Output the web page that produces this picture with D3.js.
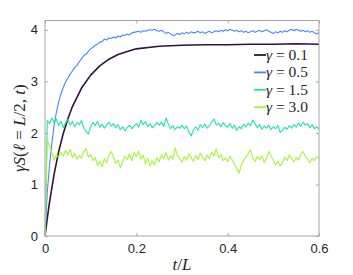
<!DOCTYPE html>
<html>
<head>
<meta charset="utf-8">
<script src="https://cdn.jsdelivr.net/npm/d3@7"></script>
<style>
  body { margin: 0; background: #fff; }
  svg text { fill: #262626; }
</style>
</head>
<body>
<div id="chart"></div>
<script>
// time grid for the noisy runs: t/L = 0, 0.005, ..., 0.6
var tGrid = d3.range(121).map(function(i) { return +(i * 0.005).toFixed(3); });

// gamma = 0.1 (smooth curve)
var tSmooth = [0, 0.005, 0.01, 0.02, 0.03, 0.04, 0.05, 0.06, 0.08, 0.1, 0.12, 0.14,
               0.16, 0.18, 0.2, 0.25, 0.3, 0.35, 0.4, 0.45, 0.5, 0.55, 0.6];
var sGamma01 = [0, 0.34, 0.66, 1.20, 1.64, 1.99, 2.27, 2.51, 2.87, 3.12, 3.30, 3.43,
                3.52, 3.58, 3.63, 3.68, 3.70, 3.71, 3.71, 3.72, 3.72, 3.73, 3.72];

var sGamma05 = [
  0, 0.85, 1.38, 1.80, 2.15, 2.40, 2.60, 2.76, 2.88, 2.99,
  3.06, 3.14, 3.20, 3.27, 3.31, 3.38, 3.44, 3.50, 3.53, 3.58,
  3.63, 3.66, 3.70, 3.72, 3.76, 3.77, 3.82, 3.80, 3.84, 3.83,
  3.86, 3.84, 3.88, 3.86, 3.90, 3.89, 3.92, 3.90, 3.94, 3.95,
  3.96, 3.97, 3.95, 3.98, 3.97, 3.99, 4.00, 3.99, 4.01, 3.98,
  3.97, 3.99, 3.96, 3.93, 3.95, 3.92, 3.89, 3.90, 3.93, 3.91,
  3.94, 3.92, 3.95, 3.93, 3.96, 3.94, 3.95, 3.97, 3.94, 3.96,
  3.93, 3.95, 3.97, 3.94, 3.96, 3.98, 3.96, 3.99, 3.97, 4.00,
  3.98, 4.01, 3.99, 3.97, 3.99, 3.96, 3.98, 3.95, 3.97, 3.94,
  3.96, 3.98, 3.95, 3.97, 3.99, 3.96, 3.98, 4.00, 3.97, 3.95,
  3.93, 3.96, 3.94, 3.97, 3.95, 3.98, 3.96, 3.99, 4.01, 3.98,
  4.01, 3.99, 3.97, 3.99, 3.96, 3.98, 3.95, 3.97, 3.94, 3.92,
  3.94
];

var sGamma15 = [
  0, 2.24, 2.18, 2.29, 2.20, 2.27, 2.14, 2.23, 2.10, 2.19,
  2.26, 2.15, 2.22, 2.12, 2.20, 2.16, 2.24, 2.09, 2.03, 1.98,
  2.12, 2.20, 2.14, 2.22, 2.11, 2.17, 2.09, 2.15, 2.21, 2.13,
  2.18, 2.10, 2.16, 2.06, 2.12, 2.04, 2.10, 2.15, 2.08, 2.13,
  2.18, 2.11, 2.25, 2.16, 2.22, 2.12, 2.18, 2.10, 2.14, 2.20,
  2.15, 2.21, 2.12, 2.29, 2.17, 2.08, 2.14, 2.06, 2.12, 2.09,
  2.15, 2.08, 2.13, 2.02, 1.94, 2.06, 2.12, 2.05, 2.16, 2.10,
  2.17, 2.09, 2.14, 2.21, 2.27, 2.15, 2.19, 2.12, 2.20, 2.14,
  2.11, 2.18, 2.09, 2.15, 2.05, 2.12, 2.08, 2.17, 2.11, 2.19,
  2.14, 2.25, 2.18, 2.10, 2.16, 2.07, 2.13, 2.09, 2.15, 2.06,
  2.12, 2.08, 2.14, 2.01, 2.05, 2.11, 2.07, 2.14, 2.09, 2.16,
  2.11, 2.19, 2.13, 2.21, 2.15, 2.18, 2.10, 2.16, 2.08, 2.12,
  2.06
];

var sGamma30 = [
  0, 1.86, 1.74, 1.62, 1.47, 1.58, 1.52, 1.63, 1.55, 1.66,
  1.57, 1.68, 1.52, 1.60, 1.49, 1.56, 1.51, 1.64, 1.70, 1.53,
  1.58, 1.46, 1.52, 1.37, 1.45, 1.34, 1.50, 1.42, 1.57, 1.64,
  1.53, 1.41, 1.47, 1.32, 1.44, 1.55, 1.48, 1.59, 1.46, 1.62,
  1.54, 1.65, 1.49, 1.57, 1.40, 1.51, 1.36, 1.46, 1.38, 1.52,
  1.44, 1.58, 1.50, 1.62, 1.47, 1.55, 1.49, 1.71, 1.56, 1.50,
  1.43, 1.54, 1.47, 1.59, 1.52, 1.45, 1.56, 1.48, 1.61, 1.53,
  1.46, 1.57, 1.50, 1.63, 1.55, 1.69, 1.52, 1.58, 1.46, 1.51,
  1.44, 1.55, 1.48, 1.39, 1.30, 1.22, 1.38, 1.47, 1.53, 1.60,
  1.67, 1.52, 1.45, 1.54, 1.48, 1.56, 1.43, 1.50, 1.64, 1.55,
  1.47, 1.38, 1.45, 1.36, 1.42, 1.53, 1.46, 1.57, 1.50, 1.44,
  1.52, 1.47, 1.58, 1.64, 1.55, 1.49, 1.42, 1.51, 1.46, 1.54,
  1.50
];

var gammaLabels = ["0.1", "0.5", "1.5", "3.0"];
var gammaColors = ["#30123b", "#4686fb", "#1ee3ad", "#a4f53c"];
var xTicks = [0, 0.2, 0.4, 0.6];
var yTicks = [0, 1, 2, 3, 4];

var series = [
  { t: tSmooth, s: sGamma01, w: 1.6 },
  { t: tGrid,   s: sGamma05, w: 1.1 },
  { t: tGrid,   s: sGamma15, w: 1.1 },
  { t: tGrid,   s: sGamma30, w: 1.1 }
];

var W = 353, H = 275;
var plotL = 45, plotR = 319, plotT = 20.5, plotB = 236;

var svg = d3.select("#chart").append("svg")
    .attr("width", W).attr("height", H);

var x = d3.scaleLinear().domain([0, 0.6]).range([plotL, plotR]);
var y = d3.scaleLinear().domain([0, 4.18]).range([plotB, plotT]);

var line = d3.line()
    .x(function(d) { return x(d[0]); })
    .y(function(d) { return y(d[1]); });

series.forEach(function(sr, i) {
  var pts = sr.s.map(function(v, k) { return [sr.t[k], v]; });
  svg.append("path")
      .attr("d", line(pts))
      .attr("fill", "none")
      .attr("stroke", gammaColors[i])
      .attr("stroke-width", sr.w)
      .attr("stroke-linejoin", "round");
});

// box and inward ticks on all four sides
var axisColor = "#a6a6a6";
function styleAxis(g) {
  g.select(".domain").remove();
  g.selectAll(".tick line").attr("stroke", axisColor);
  g.selectAll(".tick text")
      .attr("font-family", "Liberation Sans, Arial, sans-serif")
      .attr("font-size", 13).attr("fill", "#262626");
}

svg.append("g").attr("transform", "translate(0," + plotB + ")")
    .call(d3.axisBottom(x).tickValues(xTicks).tickSize(-3).tickPadding(8)
          .tickFormat(d3.format("~g")))
    .call(styleAxis);
svg.append("g").attr("transform", "translate(0," + plotT + ")")
    .call(d3.axisTop(x).tickValues(xTicks).tickSize(-3).tickFormat(""))
    .call(styleAxis);
svg.append("g").attr("transform", "translate(" + plotL + ",0)")
    .call(d3.axisLeft(y).tickValues(yTicks).tickSize(-3).tickPadding(7)
          .tickFormat(d3.format("d")))
    .call(styleAxis);
svg.append("g").attr("transform", "translate(" + plotR + ",0)")
    .call(d3.axisRight(y).tickValues(yTicks).tickSize(-3).tickFormat(""))
    .call(styleAxis);

svg.append("rect")
    .attr("x", plotL).attr("y", plotT)
    .attr("width", plotR - plotL).attr("height", plotB - plotT)
    .attr("fill", "none").attr("stroke", axisColor).attr("stroke-width", 1);

// legend
var serif = "Liberation Serif, Times New Roman, serif";
var leg = svg.append("g");
gammaLabels.forEach(function(lab, i) {
  var ly = 55 + i * 17.4;
  leg.append("line")
      .attr("x1", 254).attr("x2", 266).attr("y1", ly).attr("y2", ly)
      .attr("stroke", gammaColors[i]).attr("stroke-width", 1.8);
  var t = leg.append("text")
      .attr("x", 266).attr("y", ly + 5)
      .attr("font-family", serif).attr("font-size", 15.5);
  t.append("tspan").attr("font-style", "italic").text("γ");
  t.append("tspan").text(" = " + lab);
});

// axis labels
var xl = svg.append("text")
    .attr("x", (plotL + plotR) / 2).attr("y", 270)
    .attr("text-anchor", "middle")
    .attr("font-family", serif).attr("font-size", 17);
xl.append("tspan").attr("font-style", "italic").text("t");
xl.append("tspan").text("/");
xl.append("tspan").attr("font-style", "italic").text("L");

var yl = svg.append("text")
    .attr("transform", "translate(25," + (plotT + plotB) / 2 + ") rotate(-90)")
    .attr("text-anchor", "middle")
    .attr("font-family", serif).attr("font-size", 17);
yl.append("tspan").attr("font-style", "italic").text("γS");
yl.append("tspan").text("(");
yl.append("tspan").attr("font-style", "italic").text("ℓ");
yl.append("tspan").text(" = ");
yl.append("tspan").attr("font-style", "italic").text("L");
yl.append("tspan").text("/2, ");
yl.append("tspan").attr("font-style", "italic").text("t");
yl.append("tspan").text(")");
</script>
</body>
</html>
